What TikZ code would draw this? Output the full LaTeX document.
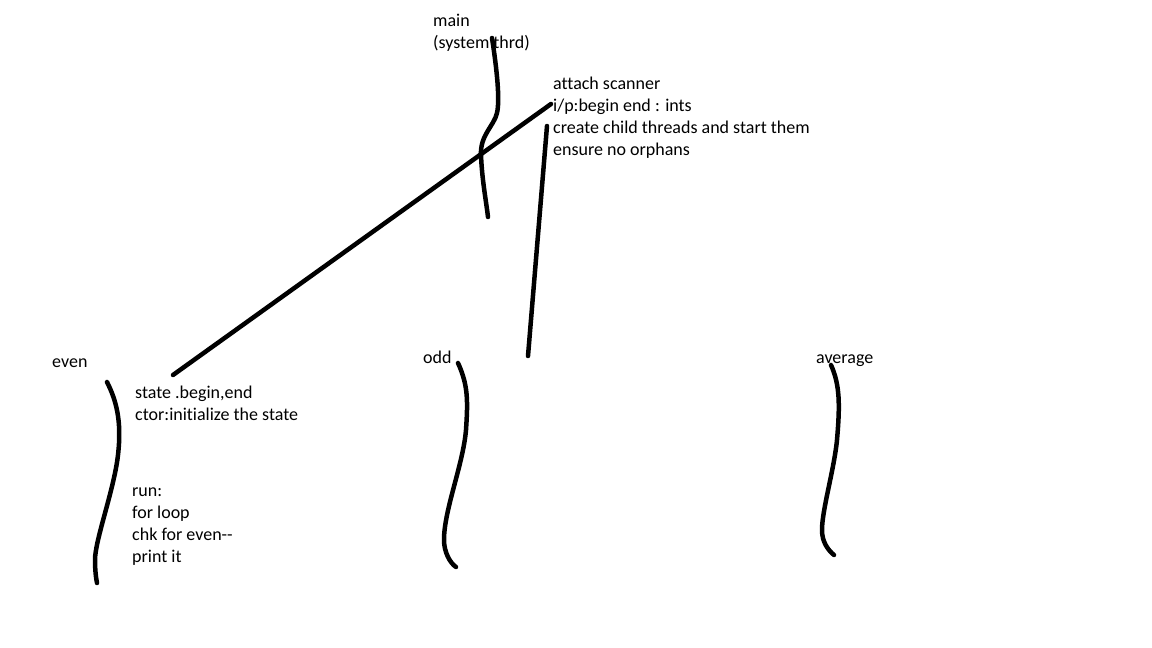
\documentclass[tikz,border=0pt]{standalone}
\usepackage{fontspec}
\setmainfont[Ligatures={NoCommon}]{Carlito}
\usetikzlibrary{positioning}

\begin{document}
\begin{tikzpicture}[
  x=1bp, y=-1bp,
  every node/.style={font=\fontsize{18bp}{22bp}\selectfont},
  note/.style={anchor=base west, inner sep=0pt, align=left, text=black},
  thread/.style={line width=4.5bp, black, line cap=round, line join=round},
  stroke/.style={line width=4.5bp, black, line cap=round},
]
\useasboundingbox[fill=white] (0,0) rectangle (1152,648);

% ----------------------------------------------------------- main thread --
\node[note] (main) at (433,49) {main\\(system thrd)};
\node[note] (mainjobs) at (553,156)
  {attach scanner\\i/p:begin end : ints\\create child threads and start them\\ensure no orphans};
\draw[thread] (492,38) .. controls (497,70) and (500,100) .. (497,113)
  .. controls (494,126) and (480,135) .. (481,155)
  .. controls (482,180) and (486,200) .. (488,217);

% ------------------------------------------------------- child threads --
\node[note] (even) at (52,367) {even};
\node[note] (odd) at (423,363) {odd};
\node[note] (average) at (816,363) {average};

\node[note] (evenstate) at (135,420) {state .begin,end\\ctor:initialize the state};
\node[note] (evenrun) at (132,562) {run:\\for loop\\chk for even{-}{-}\\print it};

\draw[thread] (107,382) .. controls (116,400) and (122,420) .. (118,455)
  .. controls (114,490) and (95,540) .. (95,560)
  .. controls (95,570) and (96,578) .. (97,583);
\draw[thread] (458,363) .. controls (468,385) and (468,400) .. (466,430)
  .. controls (463,465) and (444,510) .. (444,540)
  .. controls (444,552) and (450,563) .. (456,567);
\draw[thread] (831,365) .. controls (840,385) and (840,405) .. (837,440)
  .. controls (834,470) and (822,510) .. (822,530)
  .. controls (822,542) and (828,550) .. (834,555);

% ------------------------------------------------------------ strokes --
\coordinate (spawnA) at (551,104);
\coordinate (spawnB) at (547,126);
\coordinate (evenend) at (173,375);
\coordinate (oddend) at (528,356);
\draw[stroke] (spawnA) -- (evenend);
\draw[stroke] (spawnB) -- (oddend);

\end{tikzpicture}
\end{document}
